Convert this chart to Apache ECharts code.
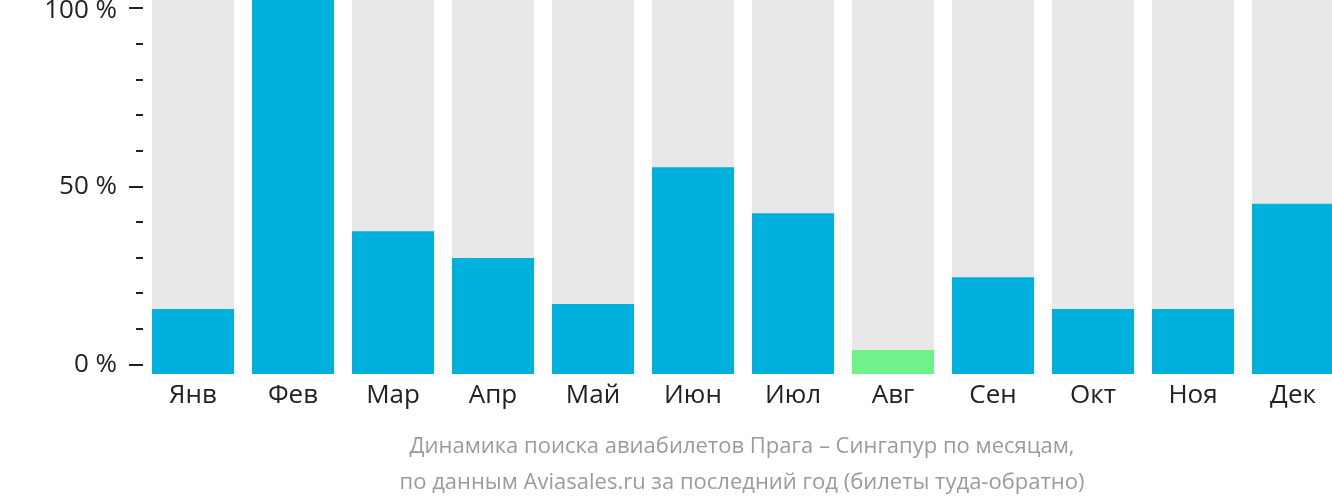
<!DOCTYPE html>
<html>
<head>
<meta charset="utf-8">
<script src="https://cdn.jsdelivr.net/npm/echarts@6/dist/echarts.min.js"></script>
<style>html,body{margin:0;padding:0;background:#fff}#c{width:1332px;height:502px}</style>
</head>
<body>
<div id="c"></div>
<script>
const months = ['Янв','Фев','Мар','Апр','Май','Июн','Июл','Авг','Сен','Окт','Ноя','Дек'];
const values = [17.4, 100, 38.2, 31.0, 18.7, 55.3, 43.0, 6.4, 25.9, 17.4, 17.4, 45.5];
const highlightIndex = 7; // Авг shown in green
const tickLabels = {0: '0 %', 50: '50 %', 100: '100 %'};
const titleLines = ['Динамика поиска авиабилетов Прага – Сингапур по месяцам,', 'по данным Aviasales.ru за последний год (билеты туда-обратно)'];

const FONT = '"Open Sans", "Noto Sans", sans-serif';
const chart = echarts.init(document.getElementById('c'), null, {renderer: 'canvas'});
chart.setOption({
  animation: false,
  backgroundColor: '#fff',
  title: {
    text: titleLines.join('\n'),
    left: 737, top: 424, textAlign: 'center',
    textStyle: {fontFamily: FONT, fontSize: 22, fontWeight: 'normal', color: '#9b9b9b', lineHeight: 36}
  },
  grid: [
    {left: 143, width: 1200, top: 0, height: 374, containLabel: false, outerBoundsMode: 'none'},
    {left: 143, width: 1200, top: 8, height: 356.5, containLabel: false, outerBoundsMode: 'none'}
  ],
  xAxis: [
    {type: 'category', gridIndex: 0, data: months,
     axisLine: {show: false}, axisTick: {show: false},
     axisLabel: {fontFamily: FONT, fontSize: 26, color: '#222', margin: 9}},
    {type: 'category', gridIndex: 1, data: months, show: false}
  ],
  yAxis: [
    {type: 'value', gridIndex: 0, min: 0, max: 100, show: false},
    {type: 'value', gridIndex: 1, min: 0, max: 100, interval: 50,
     axisLine: {show: false},
     splitLine: {show: false},
     axisTick: {show: true, length: 14, lineStyle: {color: '#222', width: 2}},
     minorTick: {show: true, splitNumber: 5, length: 7, lineStyle: {color: '#222', width: 2}},
     axisLabel: {fontFamily: FONT, fontSize: 26, color: '#222', margin: 26,
       formatter: v => v === 100 ? '{top|' + tickLabels[v] + '}' : (tickLabels[v] || ''),
       rich: {top: {fontFamily: FONT, fontSize: 26, color: '#222', padding: [5, 0, 0, 0]}}}}
  ],
  series: [{
    type: 'bar', xAxisIndex: 0, yAxisIndex: 0,
    barWidth: 82,
    showBackground: true,
    backgroundStyle: {color: '#e8e8e8'},
    data: values.map((v, i) => ({value: v, itemStyle: {color: i === highlightIndex ? '#70f28a' : '#00b1dd'}}))
  }]
});
</script>
</body>
</html>
